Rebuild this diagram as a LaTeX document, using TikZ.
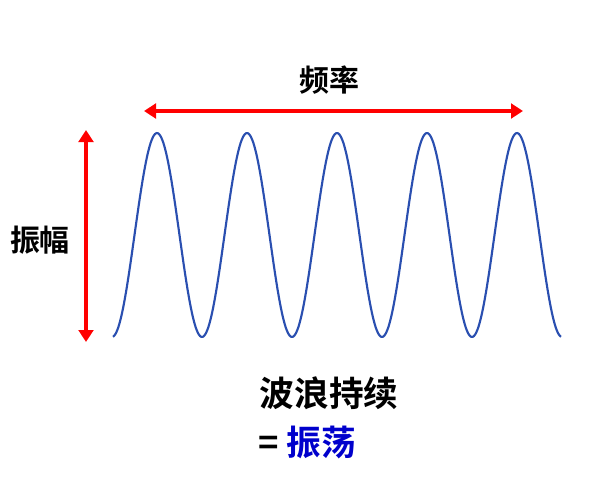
\documentclass[tikz,border=0pt]{standalone}
\usepackage{fontspec}
\newfontfamily\cjk{Noto Sans CJK SC}[BoldFont={Noto Sans CJK SC Bold}]
\usetikzlibrary{arrows.meta}
\definecolor{wave}{HTML}{2A4FB0}
\definecolor{deepblue}{HTML}{0000CC}
\tikzset{redarrow/.style={draw=red, line width=3pt, {Triangle[length=9pt,width=11pt]}-{Triangle[length=9pt,width=11pt]}},
 lbl/.style={font=\cjk\bfseries\fontsize{22.5}{26}\selectfont, text=black},
 biglbl/.style={font=\cjk\bfseries\fontsize{26}{30}\selectfont, text=black}}
\begin{document}
\begin{tikzpicture}[x=0.75pt,y=-0.75pt]
\useasboundingbox (0,0) rectangle (600,480);
\draw[wave, line width=1.6pt, smooth, samples=300, domain=113:561] plot (\x, {235-102*cos(4*(\x-157))});
\coordinate (hl) at (144,111); \coordinate (hr) at (523,111);
\coordinate (vt) at (86,130); \coordinate (vb) at (86,342);
\draw[redarrow] (hl) -- (hr);
\draw[redarrow] (vt) -- (vb);
\node[lbl] (freq) at (329,80) {频率};
\node[lbl] (amp) at (40,240) {振幅};
\node[biglbl] (wave) at (329,393) {波浪持续};
\node[biglbl] (osc) at (307,442) {= \textcolor{deepblue}{振荡}};
\end{tikzpicture}
\end{document}
